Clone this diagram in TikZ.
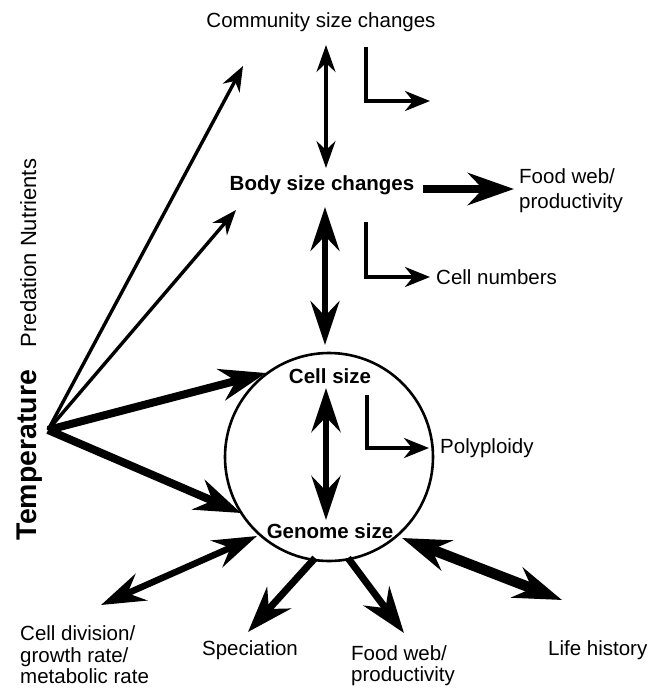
\documentclass[tikz,border=0pt]{standalone}
\usepackage{fontspec}
\setmainfont{Liberation Sans}
\usetikzlibrary{arrows.meta}

\begin{document}
\begin{tikzpicture}[x=1pt, y=-1pt,
    lbl/.style={inner sep=0pt, font=\fontsize{20.5}{22}\selectfont},
    blbl/.style={lbl, font=\fontsize{20.5}{22}\selectfont\bfseries},
    arrS/.style={line width=3.4pt, -{Stealth[length=25pt, width=19pt, inset=8pt]}},
    darrS/.style={line width=3.4pt, {Stealth[length=27pt, width=19pt, inset=9pt]}-{Stealth[length=27pt, width=19pt, inset=9pt]}},
    bent/.style={line width=3.5pt, -{Stealth[length=25pt, width=20pt, inset=8pt]}},
    arrM/.style={line width=8pt, -{Stealth[length=46pt, width=32pt, inset=15pt]}},
    darrM/.style={line width=6.5pt, {Stealth[length=44pt, width=29pt, inset=15pt]}-{Stealth[length=44pt, width=29pt, inset=15pt]}},
    darrL/.style={line width=10.5pt, {Stealth[length=48pt, width=32pt, inset=16pt]}-{Stealth[length=48pt, width=32pt, inset=16pt]}}]
  \useasboundingbox (0,0) rectangle (649,688);

  % side labels
  \node[lbl, font=\fontsize{28.5}{30}\selectfont\bfseries, rotate=90, anchor=base] (temp) at (36,455) {Temperature};
  \node[lbl, font=\fontsize{22}{24}\selectfont, rotate=90, anchor=base] (pred) at (36,253) {Predation Nutrients};

  % levels
  \node[lbl] (comm) at (321,22) {Community size changes};
  \node[blbl] (body) at (322,185) {Body size changes};
  \node[circle, draw, line width=2.6pt, minimum size=208pt, inner sep=0pt] (cell) at (329,457) {};
  \node[blbl] (csize) at (330,376) {Cell size};
  \node[blbl] (gsize) at (330,531) {Genome size};

  % outcomes
  \node[lbl, anchor=west, align=left, font=\fontsize{20.5}{25}\selectfont] (fweb) at (519,191) {Food web/\\productivity};
  \node[lbl, anchor=west] (cnum) at (436,277) {Cell numbers};
  \node[lbl, anchor=west] (poly) at (440,448) {Polyploidy};
  \node[lbl, anchor=south west, align=left, font=\fontsize{20.5}{21.5}\selectfont] (cdiv) at (20,684) {Cell division/\\growth rate/\\metabolic rate};
  \node[lbl] (spec) at (250,650) {Speciation};
  \node[lbl, anchor=south west, align=left, font=\fontsize{20.5}{21.5}\selectfont] (fweb2) at (351,686) {Food web/\\productivity};
  \node[lbl, anchor=west] (life) at (548,650) {Life history};

  % arrow ends
  \coordinate (t0) at (48,430);
  \coordinate (c1a) at (326,45);   \coordinate (c1b) at (326,168);
  \coordinate (c2a) at (325,207);  \coordinate (c2b) at (325,345);
  \coordinate (c3a) at (326,388);  \coordinate (c3b) at (326,520);
  \coordinate (l1a) at (366,47);   \coordinate (l1b) at (430,101);
  \coordinate (l2a) at (366,222);  \coordinate (l2b) at (430,277);
  \coordinate (l3a) at (367,395);  \coordinate (l3b) at (429,448);
  \coordinate (fwa) at (423,189);  \coordinate (fwb) at (514,189);
  \coordinate (ta) at (243,66);    \coordinate (tb) at (236,210);
  \coordinate (tc) at (266,373);   \coordinate (td) at (241,513);
  \coordinate (ba) at (257,536);   \coordinate (bb) at (101,605);
  \coordinate (sa) at (315,558);   \coordinate (sb) at (248,632);
  \coordinate (pa) at (348,558);   \coordinate (pb) at (404,633);
  \coordinate (ha) at (402,538);   \coordinate (hb) at (562,600);

  % vertical links
  \draw[darrS] (c1a) -- (c1b);
  \draw[darrM, line width=5.5pt] (c2a) -- (c2b);
  \draw[darrM] (c3a) -- (c3b);
  \draw[bent] (l1a) |- (l1b);
  \draw[bent] (l2a) |- (l2b);
  \draw[bent] (l3a) |- (l3b);
  \draw[arrM] (fwa) -- (fwb);

  % temperature
  \draw[arrS] (t0) -- (ta);
  \draw[arrS] (t0) -- (tb);
  \draw[arrM] (t0) -- (tc);
  \draw[arrM] (t0) -- (td);

  % genome size effects
  \draw[darrM] (ba) -- (bb);
  \draw[arrM, line width=7pt] (sa) -- (sb);
  \draw[arrM, line width=7pt] (pa) -- (pb);
  \draw[darrL] (ha) -- (hb);
\end{tikzpicture}
\end{document}
